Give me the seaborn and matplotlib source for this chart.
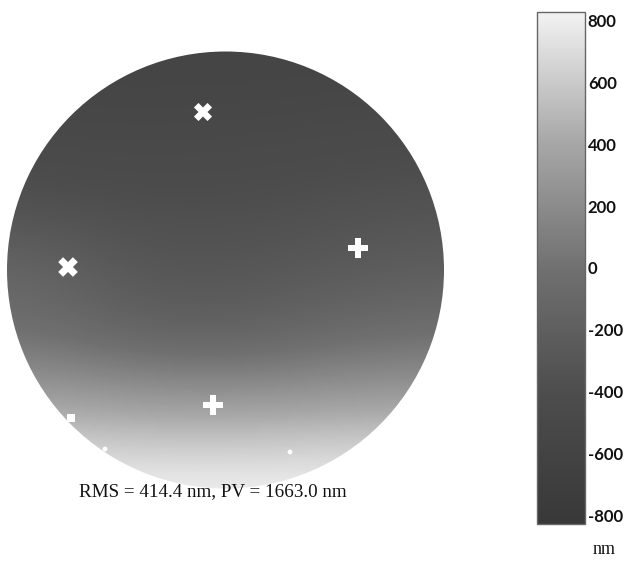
import numpy as np
import pandas as pd
import matplotlib
matplotlib.use("Agg")
import matplotlib.pyplot as plt
from matplotlib.colors import LinearSegmentedColormap, Normalize
from matplotlib.patches import Circle
import matplotlib.cm as cm
import seaborn as sns

sns.set_theme(style="white")
plt.rcParams["font.family"] = ["Liberation Serif", "DejaVu Serif"]

# ---- data (nm) ----
# grid sample positions in image pixels
col_x = [7, 62, 116, 171, 225, 280, 335, 389, 444]
row_y = [52, 107, 161, 216, 270, 325, 379, 434, 488]
row0 = [-570, -570, -570, -570, -570, -570, -570, -570, -570]
row1 = [-520, -525, -530, -530, -525, -520, -510, -500, -500]
row2 = [-440, -450, -460, -460, -455, -445, -430, -420, -410]
row3 = [-330, -350, -370, -380, -380, -370, -350, -330, -320]
row4 = [-120, -170, -260, -300, -300, -280, -250, -230, -210]
row5 = [-40, -80, -150, -190, -190, -160, -110, -70, -50]
row6 = [230, 210, 170, 140, 130, 150, 180, 200, 200]
row7 = [580, 570, 550, 540, 540, 550, 560, 570, 580]
row8 = [826, 826, 826, 826, 826, 826, 826, 826, 826]

# masked (invalid) spots
spot_x = [203, 68, 358, 213, 71, 105, 290]
spot_y = [112, 267, 248, 405, 418, 449, 452]
spot_kind = ["X", "X", "P", "P", "s", "o", "o"]
spot_size = [170, 200, 210, 210, 30, 12, 12]

cbar_ticks = [-800, -600, -400, -200, 0, 200, 400, 600, 800]
vmin, vmax = -826, 826
rms_text = "RMS = 414.4 nm, PV = 1663.0 nm"
unit = "nm"

# ---- colormap (grayscale as in the print) ----
gray_pos = [0.0, 0.25, 0.5, 0.75, 1.0]
gray_val = [0.22, 0.30, 0.44, 0.66, 0.95]
cmap = LinearSegmentedColormap.from_list(
    "scan_gray", [(p, (g, g, g)) for p, g in zip(gray_pos, gray_val)])

grid = np.array([row0, row1, row2, row3, row4, row5, row6, row7, row8], dtype=float)

W, H = 626, 561
fig = plt.figure(figsize=(W / 100, H / 100), dpi=100)
ax = fig.add_axes([0, 0, 460 / W, 1])

dx = (col_x[-1] - col_x[0]) / (len(col_x) - 1)
dy = (row_y[-1] - row_y[0]) / (len(row_y) - 1)
extent = (col_x[0] - dx / 2, col_x[-1] + dx / 2, row_y[-1] + dy / 2, row_y[0] - dy / 2)
im = ax.imshow(grid, extent=extent, cmap=cmap, vmin=vmin, vmax=vmax,
               interpolation="bicubic", aspect="auto", zorder=1)
circ = Circle((225.5, 270), 218.5, transform=ax.transData, facecolor="none", edgecolor="none")
ax.add_patch(circ)
im.set_clip_path(circ)

spots = pd.DataFrame({"x": spot_x, "y": spot_y, "kind": spot_kind, "size": spot_size})
for _, r in spots.iterrows():
    sns.scatterplot(x=[r["x"]], y=[r["y"]], marker=r["kind"], s=r["size"],
                    color="white", edgecolor="none", linewidth=0, ax=ax, zorder=3,
                    legend=False)
ax.set_xlim(0, 460)
ax.set_ylim(H, 0)
ax.axis("off")

ax.text(213, 492, rms_text, ha="center", va="center", fontsize=13.7,
        color="#111111", family=["Liberation Serif"])

# ---- colorbar ----
cax = fig.add_axes([537 / W, (H - 524) / H, 48 / W, 512 / H])
sm = cm.ScalarMappable(norm=Normalize(vmin=vmin, vmax=vmax), cmap=cmap)
cb = fig.colorbar(sm, cax=cax, ticks=cbar_ticks)
cb.outline.set_edgecolor("#666666")
cb.outline.set_linewidth(1.0)
cax.tick_params(axis="y", which="both", direction="in", left=True, right=True,
                labelleft=False, labelright=True, length=4, width=0.8,
                color="#555555", pad=2, labelsize=12)
cb.set_ticklabels([str(v) for v in cbar_ticks])
for t in cax.get_yticklabels():
    t.set_family(["Lato", "DejaVu Sans"])
    t.set_fontsize(12)
    t.set_fontweight("bold")
    t.set_color("#111111")

fig.text(604 / W, 1 - 550 / H, unit, ha="center", va="center", fontsize=13,
         color="#111111", family=["Liberation Serif"])

fig.savefig("out.png", dpi=100, facecolor="white")
